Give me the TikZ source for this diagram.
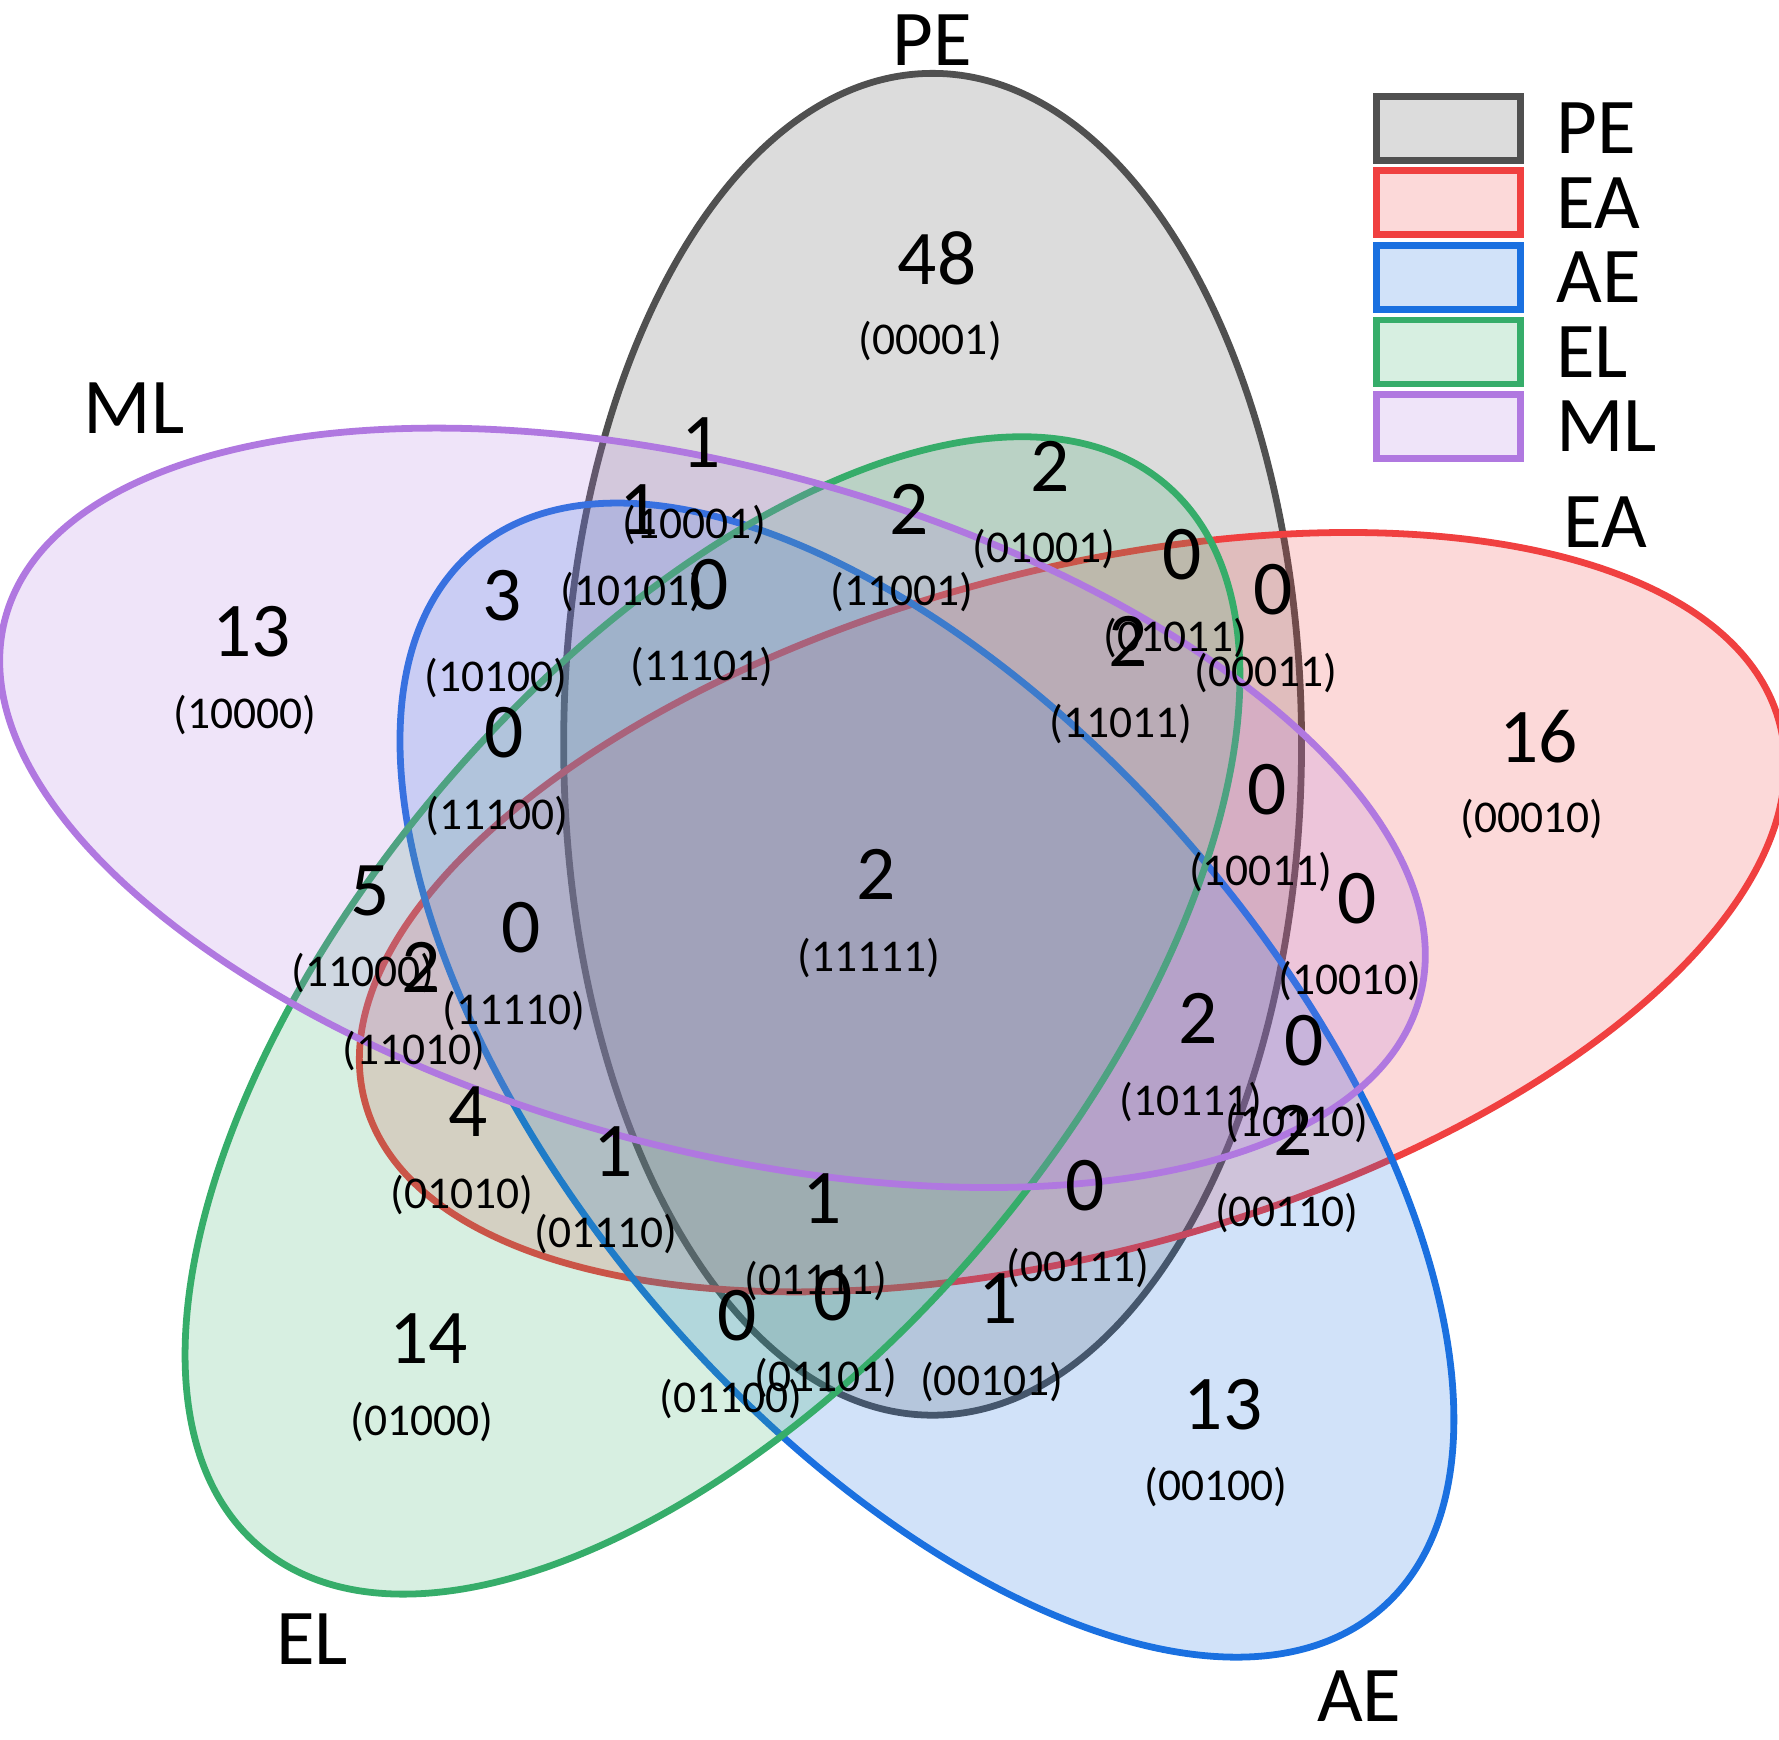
\documentclass[tikz,border=0pt]{standalone}
\usepackage{fontspec}
\setmainfont{Carlito}
\usetikzlibrary{positioning}

\definecolor{pegray}{RGB}{80,80,80}
\definecolor{eared}{RGB}{240,64,64}
\definecolor{aeblue}{RGB}{26,112,224}
\definecolor{elgreen}{RGB}{54,173,106}
\definecolor{mlpurple}{RGB}{176,120,224}

\begin{document}
\begin{tikzpicture}[x=0.01cm, y=-0.01cm,
    setshape/.style={draw=#1, fill=#1, fill opacity=0.2, line width=1.7pt},
    keybox/.style={draw=#1, fill=#1, fill opacity=0.2, line width=1.7pt, minimum width=1.27cm, minimum height=0.565cm, inner sep=0pt},
    countnode/.style={inner sep=0pt, font=\fontsize{19.4}{22}\selectfont},
    codenode/.style={inner sep=0pt, font=\fontsize{11.4}{13}\selectfont},
    namenode/.style={inner sep=0pt, font=\fontsize{19.8}{22}\selectfont},]
    \useasboundingbox (0,0) rectangle (1568,1533.6);
    % sets
    \draw[setshape=pegray] (822,656) ellipse [x radius=3.25cm, y radius=5.91cm];
    \draw[setshape=eared, rotate around={15:(945,804)}] (945,804) ellipse [x radius=6.45cm, y radius=3cm];
    \draw[setshape=aeblue, rotate around={-49.4:(817,952)}] (817,952) ellipse [x radius=6.14cm, y radius=3.11cm];
    \draw[setshape=elgreen, rotate around={49.5:(628,895)}] (628,895) ellipse [x radius=6.15cm, y radius=3.12cm];
    \draw[setshape=mlpurple, rotate around={-15:(628,712)}] (628,712) ellipse [x radius=6.45cm, y radius=3cm];
    % set names
    \node[namenode] (namePE) at (822,35)   {PE};
    \node[namenode] (nameML) at (118,360)  {ML};
    \node[namenode] (nameEA) at (1415,460) {EA};
    \node[namenode] (nameEL) at (275,1445) {EL};
    \node[namenode] (nameAE) at (1198,1495) {AE};
    % regions
    \foreach \bits/\px/\py/\tally in {00001/820/301/48, 10000/216/630/13, 00010/1350/722/16,
        01000/372/1253/14, 00100/1072/1311/13, 11111/766/844/2, 10001/612/463/1,
        10101/557/522/1, 11101/619/588/0, 11001/795/522/2, 01001/920/484/2,
        01011/1036/562/0, 00011/1116/593/0, 11011/988/638/2, 10100/437/598/3,
        11100/438/719/0, 10011/1111/769/0, 10010/1190/865/0, 11000/320/858/5,
        11010/365/926/2, 11110/453/891/0, 10111/1050/971/2, 10110/1143/990/0,
        00110/1134/1069/2, 01010/407/1053/4, 01110/534/1088/1, 01111/719/1129/1,
        00111/950/1118/0, 01101/728/1215/0, 01100/644/1233/0, 00101/874/1218/1} {
        \node[codenode] (c\bits) at (\px,\py) {(\bits)};
        \node[countnode] (n\bits) at ([shift={(6,-73)}]c\bits.center) {\tally};
    }
    % legend
    \foreach \nm/\col [count=\i] in {PE/pegray, EA/eared, AE/aeblue, EL/elgreen, ML/mlpurple} {
        \node[keybox=\col] (key\nm) at (1276.5, 47.25+65.75*\i) {};
        \node[namenode] (keylab\nm) [right=0.28cm of key\nm] {\nm};
    }
\end{tikzpicture}
\end{document}
